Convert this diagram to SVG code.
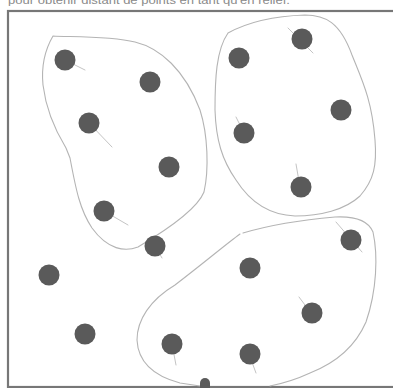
<svg xmlns="http://www.w3.org/2000/svg" width="393" height="388" viewBox="0 0 393 388">
<style>
.dot{fill:#5a5a5a;}
.blob{fill:none;stroke:#b4b4b4;stroke-width:1.1;stroke-linecap:round;stroke-linejoin:round;}
.tail{fill:none;stroke:#c4c4c4;stroke-width:1;stroke-linecap:round;}
.cap{font-family:"Liberation Sans",Arial,sans-serif;font-size:11px;fill:#8a8a8a;}
</style>
<rect width="393" height="388" fill="#ffffff"/>
<text class="cap" x="8" y="4" textLength="282" lengthAdjust="spacingAndGlyphs">pour obtenir distant de points en tant qu'en relief.</text>
<rect x="8" y="11" width="392" height="376" fill="none" stroke="#777" stroke-width="2.2"/>
<g id="groups">
<path id="groupA" class="blob" d="M53,36 C70,37 110,36 135,42 C160,48 185,70 200,110 C208,135 209,170 204,192 C198,207 170,228 138,247 C125,252 108,250 92,228 C80,210 76,190 70,158 L66,148 C55,130 46,110 43,85 C41,65 46,48 53,36 Z"/>
<path id="groupB" class="blob" d="M228,33 C248,22 275,16 305,15 C325,15 340,22 352,55 C362,80 372,100 375,140 C377,165 374,180 360,196 C345,210 320,216 295,216 C270,215 250,202 236,180 C222,160 216,140 215,110 C215,80 216,50 228,33 Z"/>
<path id="groupC" class="blob" d="M243,233 C270,225 300,220 335,217 C355,216 368,220 373,232 C378,255 377,290 366,322 C356,345 338,362 310,373 C295,380 280,384 270,386 M240,234 C225,245 205,262 175,285 C150,300 137,320 137,340 C138,360 150,375 180,383 L200,386"/>
</g>
<g id="tails">
<path class="tail" d="M65,60 L85,70"/>
<path class="tail" d="M89,123 L112,147"/>
<path class="tail" d="M104,211 L128,225"/>
<path class="tail" d="M172,344 L176,365"/>
<path class="tail" d="M288,28 L313,53"/>
<path class="tail" d="M236,117 L244,133"/>
<path class="tail" d="M296,164 L300,187"/>
<path class="tail" d="M336,222 L362,252"/>
<path class="tail" d="M299,297 L311,313"/>
<path class="tail" d="M249,354 L256,373"/>
<path class="tail" d="M155,246 L162,258"/>
</g>
<g id="dots">
<circle id="p1" class="dot" cx="65" cy="60" r="10.5"/>
<circle id="p2" class="dot" cx="150" cy="82" r="10.5"/>
<circle id="p3" class="dot" cx="89" cy="123" r="10.5"/>
<circle id="p4" class="dot" cx="169" cy="167" r="10.5"/>
<circle id="p5" class="dot" cx="104" cy="211" r="10.5"/>
<circle id="p6" class="dot" cx="155" cy="246" r="10.5"/>
<circle id="p7" class="dot" cx="49" cy="275" r="10.5"/>
<circle id="p8" class="dot" cx="85" cy="334" r="10.5"/>
<circle id="p9" class="dot" cx="172" cy="344" r="10.5"/>
<circle id="p10" class="dot" cx="239" cy="58" r="10.5"/>
<circle id="p11" class="dot" cx="302" cy="39" r="10.5"/>
<circle id="p12" class="dot" cx="341" cy="110" r="10.5"/>
<circle id="p13" class="dot" cx="244" cy="133" r="10.5"/>
<circle id="p14" class="dot" cx="301" cy="187" r="10.5"/>
<circle id="p15" class="dot" cx="351" cy="240" r="10.5"/>
<circle id="p16" class="dot" cx="250" cy="268" r="10.5"/>
<circle id="p17" class="dot" cx="312" cy="313" r="10.5"/>
<circle id="p18" class="dot" cx="250" cy="354" r="10.5"/>
<rect id="p19" class="dot" x="200" y="378" width="10" height="14" rx="5"/>
</g>
</svg>
